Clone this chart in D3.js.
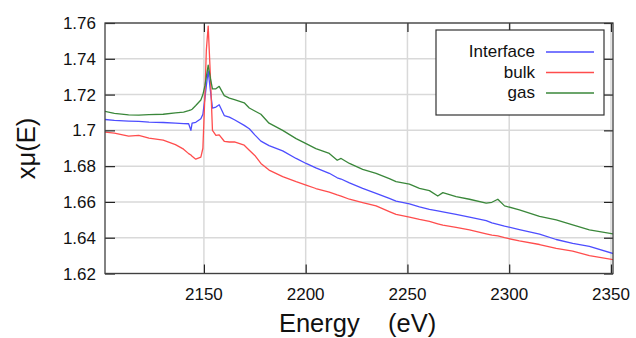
<!DOCTYPE html>
<html>
<head>
<meta charset="utf-8">
<script src="https://cdn.jsdelivr.net/npm/d3@7"></script>
<style>
  body { margin: 0; background: #fff; }
  svg { display: block; font-family: "Liberation Sans", Arial, sans-serif; }
</style>
</head>
<body>
<div id="chart"></div>
<script>
// energy grid (eV) shared by all three spectra
const energy = [2101, 2106, 2113, 2118, 2123, 2130, 2136, 2140, 2142.5, 2143.6, 2144.2, 2146,
  2148.5, 2149.5, 2150.5, 2151.2, 2152.1, 2153.2, 2154.2, 2155.9, 2157.5, 2160, 2162.5, 2165,
  2169.8, 2172.3, 2175, 2178, 2182, 2188.7, 2195.3, 2200.2, 2205, 2211.6, 2215.5, 2217.4,
  2221.5, 2228, 2234.6, 2241.1, 2244.4, 2251, 2255.9, 2260.8, 2264.9, 2267.4, 2273.9, 2280.5,
  2288.7, 2291.5, 2294.4, 2297.7, 2305, 2314.9, 2323.1, 2331.2, 2339.4, 2352];

const interfaceVals = [1.7061, 1.7056, 1.7052, 1.7050, 1.7046, 1.7044, 1.7040, 1.7038, 1.7037, 1.7000, 1.7040, 1.7045,
  1.7065, 1.7090, 1.7180, 1.7250, 1.7333, 1.7220, 1.7124, 1.7130, 1.7143, 1.7083, 1.7074, 1.7059,
  1.7028, 1.7009, 1.6975, 1.6940, 1.6915, 1.6885, 1.6843, 1.6815, 1.6790, 1.6760, 1.6735, 1.6728,
  1.6707, 1.6676, 1.6648, 1.6620, 1.6605, 1.6589, 1.6573, 1.6559, 1.6550, 1.6545, 1.6530, 1.6515,
  1.6495, 1.6483, 1.6475, 1.6465, 1.6445, 1.6420, 1.6390, 1.6368, 1.6352, 1.6308];

const bulkVals = [1.6990, 1.6985, 1.6968, 1.6972, 1.6957, 1.6945, 1.6920, 1.6895, 1.6870, 1.6862, 1.6855, 1.6839,
  1.6850, 1.6900, 1.7200, 1.7450, 1.7583, 1.7300, 1.7000, 1.6972, 1.6975, 1.6939, 1.6935, 1.6935,
  1.6917, 1.6889, 1.6860, 1.6815, 1.6778, 1.6741, 1.6713, 1.6694, 1.6675, 1.6655, 1.6639, 1.6632,
  1.6615, 1.6596, 1.6578, 1.6546, 1.6530, 1.6515, 1.6502, 1.6491, 1.6478, 1.6470, 1.6458, 1.6444,
  1.6422, 1.6415, 1.6410, 1.6400, 1.6382, 1.6362, 1.6340, 1.6325, 1.6300, 1.6276];

const gasVals = [1.7107, 1.7095, 1.7087, 1.7085, 1.7088, 1.7090, 1.7098, 1.7102, 1.7110, 1.7115, 1.7118, 1.7139,
  1.7170, 1.7200, 1.7250, 1.7300, 1.7365, 1.7290, 1.7232, 1.7232, 1.7246, 1.7194, 1.7180, 1.7172,
  1.7154, 1.7125, 1.7108, 1.7090, 1.7040, 1.7000, 1.6954, 1.6926, 1.6898, 1.6871, 1.6833, 1.6843,
  1.6815, 1.6782, 1.6759, 1.6730, 1.6713, 1.6700, 1.6676, 1.6663, 1.6633, 1.6652, 1.6630, 1.6615,
  1.6593, 1.6598, 1.6615, 1.6578, 1.6556, 1.6519, 1.6500, 1.6472, 1.6444, 1.6420];

const seriesNames = ['Interface', 'bulk', 'gas'];
const seriesColors = ['#4d4dff', '#ff4d4d', '#3a873a'];
const xTicks = [2150, 2200, 2250, 2300, 2350];
const yTicks = [1.62, 1.64, 1.66, 1.68, 1.70, 1.72, 1.74, 1.76];

const svgWidth = 636, svgHeight = 338;
const margin = { top: 23, right: 23, bottom: 64.5, left: 105 };
const width = svgWidth - margin.left - margin.right;
const height = svgHeight - margin.top - margin.bottom;

const svg = d3.select('#chart').append('svg')
  .attr('width', svgWidth)
  .attr('height', svgHeight);

const g = svg.append('g')
  .attr('transform', 'translate(' + margin.left + ',' + margin.top + ')');

// scales
const x = d3.scaleLinear().domain([2101.4, 2351]).range([0, width]);
const y = d3.scaleLinear().domain([1.62, 1.76]).range([height, 0]);

// grid lines
g.append('g').selectAll('line')
  .data(xTicks)
  .enter().append('line')
  .attr('x1', d => x(d)).attr('x2', d => x(d))
  .attr('y1', 0).attr('y2', height)
  .style('stroke', '#d9d9d9').style('stroke-width', 1.5);

g.append('g').selectAll('line')
  .data(yTicks)
  .enter().append('line')
  .attr('x1', 0).attr('x2', width)
  .attr('y1', d => y(d)).attr('y2', d => y(d))
  .style('stroke', '#d9d9d9').style('stroke-width', 1.5);

// spectra
const seriesVals = [interfaceVals, bulkVals, gasVals];
const line = d3.line()
  .x(d => x(d[0]))
  .y(d => y(d[1]));

g.append('clipPath').attr('id', 'clip')
  .append('rect').attr('width', width).attr('height', height);

seriesVals.forEach((vals, i) => {
  g.append('path')
    .datum(energy.map((e, j) => [e, vals[j]]))
    .attr('clip-path', 'url(#clip)')
    .attr('d', line)
    .style('fill', 'none')
    .style('stroke', seriesColors[i])
    .style('stroke-width', 1.3)
    .style('stroke-linejoin', 'round');
});

// axes: ticks point inward, labels drawn separately
const tickFont = '17px';

g.append('g')
  .attr('transform', 'translate(0,' + height + ')')
  .call(d3.axisBottom(x).tickValues(xTicks).tickSize(-9).tickSizeOuter(0).tickFormat(''))
  .call(a => a.select('.domain').remove())
  .selectAll('line').style('stroke', '#222').style('stroke-width', 1.2);

g.append('g')
  .call(d3.axisTop(x).tickValues(xTicks).tickSize(-9).tickSizeOuter(0).tickFormat(''))
  .call(a => a.select('.domain').remove())
  .selectAll('line').style('stroke', '#222').style('stroke-width', 1.2);

g.append('g')
  .call(d3.axisLeft(y).tickValues(yTicks).tickSize(-10).tickSizeOuter(0).tickFormat(''))
  .call(a => a.select('.domain').remove())
  .selectAll('line').style('stroke', '#222').style('stroke-width', 1.2);

g.append('g')
  .attr('transform', 'translate(' + width + ',0)')
  .call(d3.axisRight(y).tickValues(yTicks).tickSize(-9).tickSizeOuter(0).tickFormat(''))
  .call(a => a.select('.domain').remove())
  .selectAll('line').style('stroke', '#222').style('stroke-width', 1.2);

// tick labels
g.append('g').selectAll('text')
  .data(xTicks)
  .enter().append('text')
  .attr('x', d => x(d))
  .attr('y', height + 26.5)
  .style('text-anchor', 'middle')
  .style('font-size', tickFont)
  .style('fill', '#111')
  .text(d => d);

g.append('g').selectAll('text')
  .data(yTicks)
  .enter().append('text')
  .attr('x', -9)
  .attr('y', d => y(d) + 6)
  .style('text-anchor', 'end')
  .style('font-size', tickFont)
  .style('fill', '#111')
  .text(d => d3.format('~g')(d));

// plot frame
g.append('rect')
  .attr('width', width).attr('height', height)
  .style('fill', 'none')
  .style('stroke', '#404040')
  .style('stroke-width', 1.3);

// axis titles
svg.append('text')
  .attr('x', margin.left + x(2225.5))
  .attr('y', 332)
  .attr('xml:space', 'preserve')
  .style('white-space', 'pre')
  .style('text-anchor', 'middle')
  .style('font-size', '25.5px')
  .style('fill', '#111')
  .text('Energy    (eV)');

svg.append('text')
  .attr('transform', 'translate(35,' + 148.5 + ') rotate(-90)')
  .style('text-anchor', 'middle')
  .style('font-size', '25.5px')
  .style('fill', '#111')
  .text('xμ(E)');

// legend
const legend = svg.append('g').attr('transform', 'translate(436,30)');
legend.append('rect')
  .attr('width', 168).attr('height', 85)
  .style('fill', '#fff')
  .style('stroke', '#333')
  .style('stroke-width', 1.2);

seriesNames.forEach((name, i) => {
  const rowY = 22 + i * 20.5;
  legend.append('text')
    .attr('x', 99)
    .attr('y', rowY + 5)
    .style('text-anchor', 'end')
    .style('font-size', tickFont)
    .style('fill', '#111')
    .text(name);
  legend.append('line')
    .attr('x1', 110).attr('x2', 158)
    .attr('y1', rowY).attr('y2', rowY)
    .style('stroke', seriesColors[i])
    .style('stroke-width', 1.5);
});
</script>
</body>
</html>
